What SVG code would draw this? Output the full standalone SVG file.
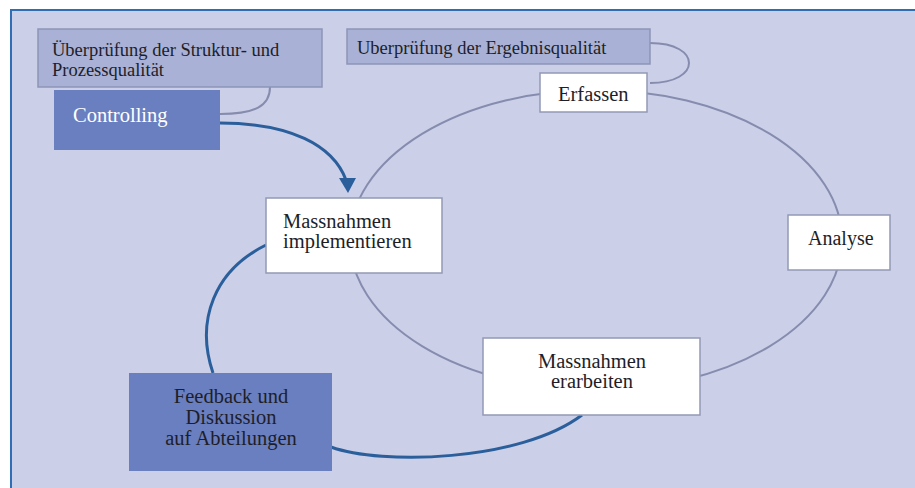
<svg xmlns="http://www.w3.org/2000/svg" width="915" height="488" viewBox="0 0 915 488">
<defs>
<style>
.q{fill:#a9b1d6;stroke:#8d95b6;stroke-width:1.5;}
.d{fill:#6a7fc0;}
.w{fill:#ffffff;stroke:#9299b5;stroke-width:1.5;}
.g{fill:none;stroke:#858cae;stroke-width:2;}
.b{fill:none;stroke:#2a5f9c;stroke-width:3;}
</style>
</defs>
<rect x="0" y="0" width="915" height="488" fill="#ffffff"/>
<rect x="11" y="10" width="904" height="478" fill="#cccfe8"/>
<path d="M11,488 V10 H915" fill="none" stroke="#2f6db5" stroke-width="2"/>
<g id="connectors">
<ellipse class="g" cx="596" cy="240" rx="246" ry="150"/>
<path class="g" d="M270,87 C270,106 255,114 220,114"/>
<path class="g" d="M650,43 C702,43 702,83 650,83"/>
<path class="b" d="M220,123 C290,123 333,145 346,180"/>
<polygon points="339,178 356,178 348,193" fill="#2a5f9c"/>
<path class="b" d="M266,245 C215,270 195,320 213,373"/>
<path class="b" d="M331,447 C380,465 520,462 582,415"/>
</g>
<g font-family="'Liberation Serif', 'Times New Roman', serif" fill="#1e1e28">
<g id="struktur">
<rect class="q" x="38" y="29" width="284" height="58"/>
<text x="52" y="56" font-size="18.5">Überprüfung der Struktur- und</text>
<text x="52" y="76" font-size="18.5">Prozessqualität</text>
</g>
<g id="controlling">
<rect class="d" x="54" y="90" width="166" height="60"/>
<text x="73" y="122" font-size="20.5" fill="#ffffff">Controlling</text>
</g>
<g id="ergebnis">
<rect class="q" x="347" y="29" width="303" height="35"/>
<text x="357" y="54" font-size="18.5">Uberprüfung der Ergebnisqualität</text>
</g>
<g id="erfassen">
<rect class="w" x="540" y="73" width="107" height="39"/>
<text x="558" y="101" font-size="20.5">Erfassen</text>
</g>
<g id="analyse">
<rect class="w" x="788" y="215" width="102" height="55"/>
<text x="808" y="245" font-size="20">Analyse</text>
</g>
<g id="implementieren">
<rect class="w" x="266" y="198" width="176" height="75"/>
<text x="283" y="228" font-size="20.5">Massnahmen</text>
<text x="283" y="248" font-size="20.5">implementieren</text>
</g>
<g id="erarbeiten">
<rect class="w" x="483" y="338" width="217" height="77"/>
<text x="592" y="368" font-size="20.5" text-anchor="middle">Massnahmen</text>
<text x="592" y="388" font-size="20.5" text-anchor="middle">erarbeiten</text>
</g>
<g id="feedback">
<rect class="d" x="129" y="373" width="203" height="98"/>
<text x="231" y="403" font-size="20.5" text-anchor="middle">Feedback und</text>
<text x="231" y="424" font-size="20.5" text-anchor="middle">Diskussion</text>
<text x="231" y="445" font-size="20.5" text-anchor="middle">auf Abteilungen</text>
</g>
</g>
</svg>
